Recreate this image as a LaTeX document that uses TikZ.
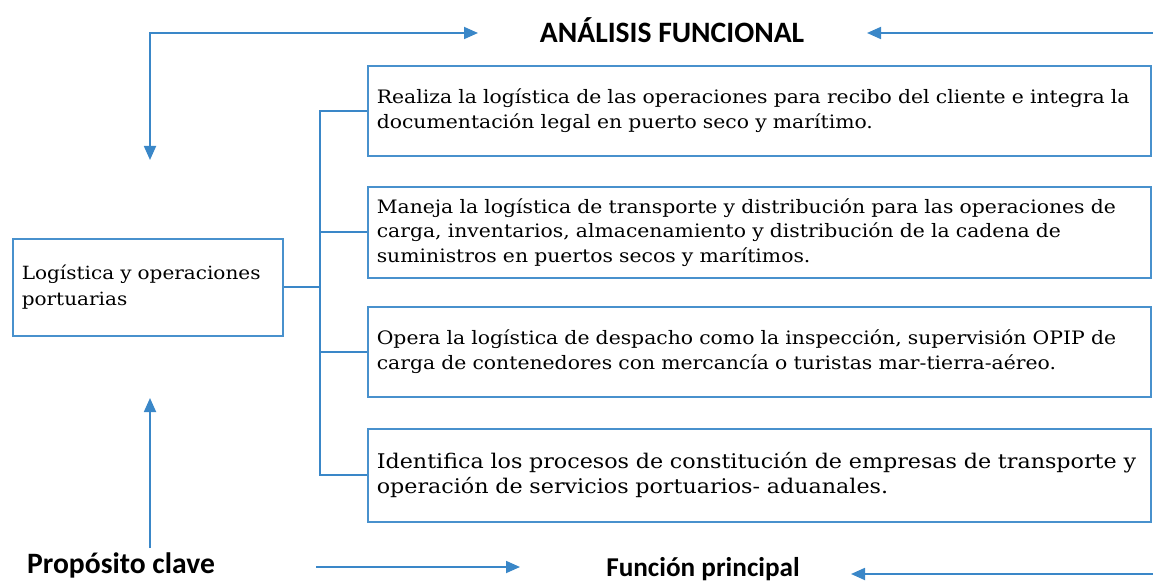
\documentclass[tikz,border=0pt]{standalone}
\usepackage{fontspec}
\setmainfont{DejaVu Serif}[FakeStretch=1.1]
\newfontfamily\lblfont{Carlito}
\usetikzlibrary{arrows.meta}
\definecolor{lineblue}{RGB}{58,135,200}
\definecolor{boxblue}{RGB}{72,145,205}
\tikzset{
  x=1pt,y=-1pt,
  box/.style={draw=boxblue, line width=1.6pt, anchor=north west, inner xsep=9pt, inner ysep=0pt,
    align=left, font=\fontsize{18.5}{24.5}\selectfont, text=black},
  conn/.style={draw=lineblue, line width=1.8pt},
  arr/.style={draw=lineblue, line width=1.8pt, -{Triangle[length=14pt,width=12pt]}},
  darr/.style={draw=lineblue, line width=1.8pt, {Triangle[length=14pt,width=12pt]}-{Triangle[length=14pt,width=12pt]}},
  lbl/.style={font=\lblfont\bfseries\fontsize{29.6}{32}\selectfont, text=black, inner sep=0pt}
}
\begin{document}
\begin{tikzpicture}
\useasboundingbox (0,0) rectangle (1153,585);
% labels
\node[lbl] (title) at (672,30) {ANÁLISIS FUNCIONAL};
\node[lbl] (prop) at (121,565) {Propósito clave};
\node[lbl, font=\lblfont\bfseries\fontsize{27.2}{30}\selectfont] (func) at (703,569) {Función principal};
% boxes
\node[box, minimum width=270pt, minimum height=97pt, text width=252pt, font=\fontsize{18.2}{26}\selectfont] (L) at (12,238)
  {Logística y operaciones\\portuarias};
\node[box, minimum width=783pt, minimum height=90pt, text width=765pt] (b1) at (367,65)
  {Realiza la logística de las operaciones para recibo del cliente e integra la\\documentación legal en puerto seco y marítimo.};
\node[box, minimum width=783pt, minimum height=91pt, text width=765pt] (b2) at (367,186)
  {Maneja la logística de transporte y distribución para las operaciones de\\carga, inventarios, almacenamiento y distribución de la cadena de\\suministros en puertos secos y marítimos.};
\node[box, minimum width=783pt, minimum height=90pt, text width=765pt] (b3) at (367,306)
  {Opera la logística de despacho como la inspección, supervisión OPIP de\\carga de contenedores con mercancía o turistas mar-tierra-aéreo.};
\node[box, minimum width=783pt, minimum height=93pt, text width=765pt, font=\fontsize{20.2}{25}\selectfont] (b4) at (367,428)
  {Identifica los procesos de constitución de empresas de transporte y\\operación de servicios portuarios- aduanales.};
% bracket
\coordinate (bx) at (320,0);
\draw[conn] (L.east) -- (L.east -| bx);
\draw[conn] (b1.west) -- (b1.west -| bx) -- (b4.west -| bx) -- (b4.west);
\draw[conn] (b2.west) -- (b2.west -| bx);
\draw[conn] (b3.west) -- (b3.west -| bx);
% arrows
\coordinate (tdown) at (150,160);
\coordinate (tright) at (478,33);
\draw[darr] (tdown) |- (tright);
\coordinate (trs) at (1153,33);
\coordinate (tre) at (867,33);
\draw[arr] (trs) -- (tre);
\coordinate (ups) at (150,548);
\coordinate (upe) at (150,398);
\draw[arr] (ups) -- (upe);
\coordinate (bms) at (316,567);
\coordinate (bme) at (520,567);
\draw[arr] (bms) -- (bme);
\coordinate (brs) at (1153,574);
\coordinate (bre) at (851,574);
\draw[arr] (brs) -- (bre);
\end{tikzpicture}
\end{document}
